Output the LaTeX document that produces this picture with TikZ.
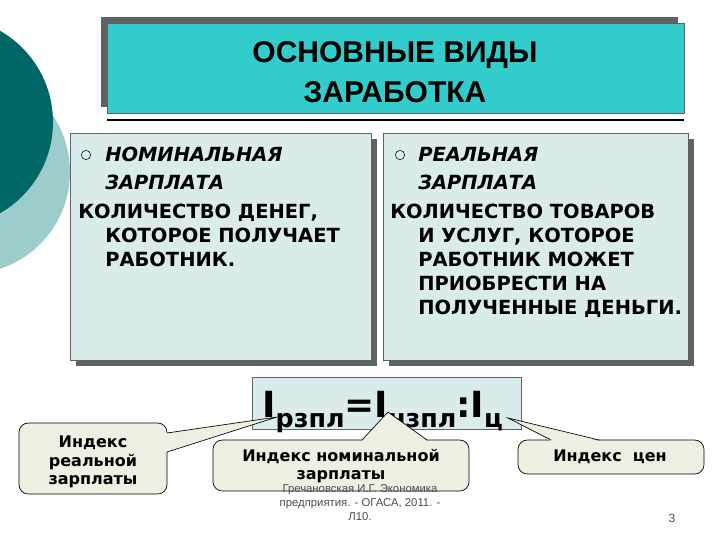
\documentclass[tikz,border=0pt]{standalone}
\usepackage{fontspec}
\setmainfont{DejaVu Sans}
\newfontfamily\hdfont{Liberation Sans}
\newfontfamily\ftfont{Liberation Sans}
\definecolor{darkteal}{HTML}{006666}
\definecolor{lightteal}{HTML}{9CCCCC}
\definecolor{headteal}{HTML}{33CCCC}
\definecolor{boxfill}{HTML}{D9EBEB}
\definecolor{shadowgray}{HTML}{5F6363}
\definecolor{callfill}{HTML}{EEEEE2}
\tikzset{
 txt/.style={anchor=base west,inner sep=0pt,font=\fontsize{14.6}{16}\selectfont\bfseries},
 ttl/.style={anchor=base west,inner sep=0pt,font=\fontsize{14.6}{16}\selectfont\bfseries\itshape},
 panel/.style={draw=shadowgray,fill=boxfill,line width=0.6pt},
 call/.style={draw=black,fill=callfill,rounded corners=7pt,line width=0.5pt},
 ctxt/.style={align=center,inner sep=0pt,font=\fontsize{12}{14}\selectfont\bfseries},
 bul/.style={circle,draw=black,fill=boxfill,inner sep=0pt,minimum size=7pt,line width=0.4pt}
}
\begin{document}
\begin{tikzpicture}[x=0.75pt,y=-0.75pt]
\useasboundingbox (0,0) rectangle (720,540);
% decorative circles
\fill[lightteal] (-32,172) circle (102);
\fill[darkteal] (-52,122) circle (105);
% header
\fill[shadowgray] (101,17) rectangle (678,107);
\node[draw=shadowgray,fill=headteal,minimum width=432.75pt,minimum height=67.5pt,anchor=north west,inner sep=0pt] (head) at (107,23) {};
\node[align=center,font=\hdfont\fontsize{22.5}{30}\selectfont\bfseries] (htxt) at (395,72) {ОСНОВНЫЕ ВИДЫ\\ЗАРАБОТКА};
\draw[line width=0.8pt] (107,120) -- (684,120);
% left panel
\fill[shadowgray] (76,139) rectangle (377,366);
\node[panel,minimum width=225.75pt,minimum height=170.25pt,anchor=north west,inner sep=0pt] (lp) at (70,133) {};
\node[bul] (lb) at (86,155) {};
\node[ttl] (lt1) at (105,161) {НОМИНАЛЬНАЯ};
\node[ttl] (lt2) at (105,189) {ЗАРПЛАТА};
\node[txt] (l1) at (78,218) {КОЛИЧЕСТВО ДЕНЕГ,};
\node[txt] (l2) at (105,242) {КОТОРОЕ ПОЛУЧАЕТ};
\node[txt] (l3) at (105,266) {РАБОТНИК.};
% right panel
\fill[shadowgray] (389,139) rectangle (694,366);
\node[panel,minimum width=228.75pt,minimum height=170.25pt,anchor=north west,inner sep=0pt] (rp) at (383,133) {};
\node[bul] (rb) at (400,155) {};
\node[ttl] (rt1) at (418,161) {РЕАЛЬНАЯ};
\node[ttl] (rt2) at (418,189) {ЗАРПЛАТА};
\node[txt] (r1) at (390,218) {КОЛИЧЕСТВО ТОВАРОВ};
\node[txt] (r2) at (418,242) {И УСЛУГ, КОТОРОЕ};
\node[txt] (r3) at (418,266) {РАБОТНИК МОЖЕТ};
\node[txt] (r4) at (418,290) {ПРИОБРЕСТИ НА};
\node[txt] (r5) at (418,314) {ПОЛУЧЕННЫЕ ДЕНЬГИ.};
% formula
\node[draw=shadowgray,fill=boxfill,minimum width=201.75pt,minimum height=39pt,anchor=north west,inner sep=0pt] (fb) at (252,377) {};
\node[anchor=base west,inner sep=0pt,font=\fontsize{27}{30}\selectfont\bfseries] (form) at (262,417)
 {I\raisebox{-7.5pt}{\fontsize{19}{20}\selectfont рзпл}=I\raisebox{-7.5pt}{\fontsize{19}{20}\selectfont нзпл}:I\raisebox{-7.5pt}{\fontsize{19}{20}\selectfont ц}};
\coordinate (tipA) at (277,417);
\coordinate (tipB) at (388,412);
\coordinate (tipC) at (508,418);
% callouts
\draw[call] (19,423) rectangle (167,494);
\draw[call] (213,440) rectangle (469,491);
\draw[call] (518,440) rectangle (704,474);
\fill[callfill] (166,433) -- (tipA) -- (166,452) -- cycle;
\draw[line width=0.5pt] (167,433) -- (tipA) -- (167,452);
\fill[callfill] (362,441) -- (tipB) -- (427,441) -- cycle;
\draw[line width=0.5pt] (362,440) -- (tipB) -- (427,440);
\fill[callfill] (551,441) -- (tipC) -- (599,441) -- cycle;
\draw[line width=0.5pt] (551,440) -- (tipC) -- (599,440);
\node[ctxt] (ca) at (93,462) {Индекс\\реальной\\зарплаты};
\node[ctxt] (cbt) at (341,466) {Индекс номинальной\\зарплаты};
\node[ctxt] (cct) at (610,457) {Индекс\ \ цен};
% footer
\node[align=center,inner sep=0pt,text=black!70,font=\ftfont\fontsize{8.5}{10.5}\selectfont] (foot) at (360,503) {Гречановская И.Г. Экономика\\предприятия. - ОГАСА, 2011. -\\Л10.};
\node[inner sep=0pt,text=black!70,font=\ftfont\fontsize{9}{11}\selectfont] (pg) at (672,518) {3};
\end{tikzpicture}
\end{document}
